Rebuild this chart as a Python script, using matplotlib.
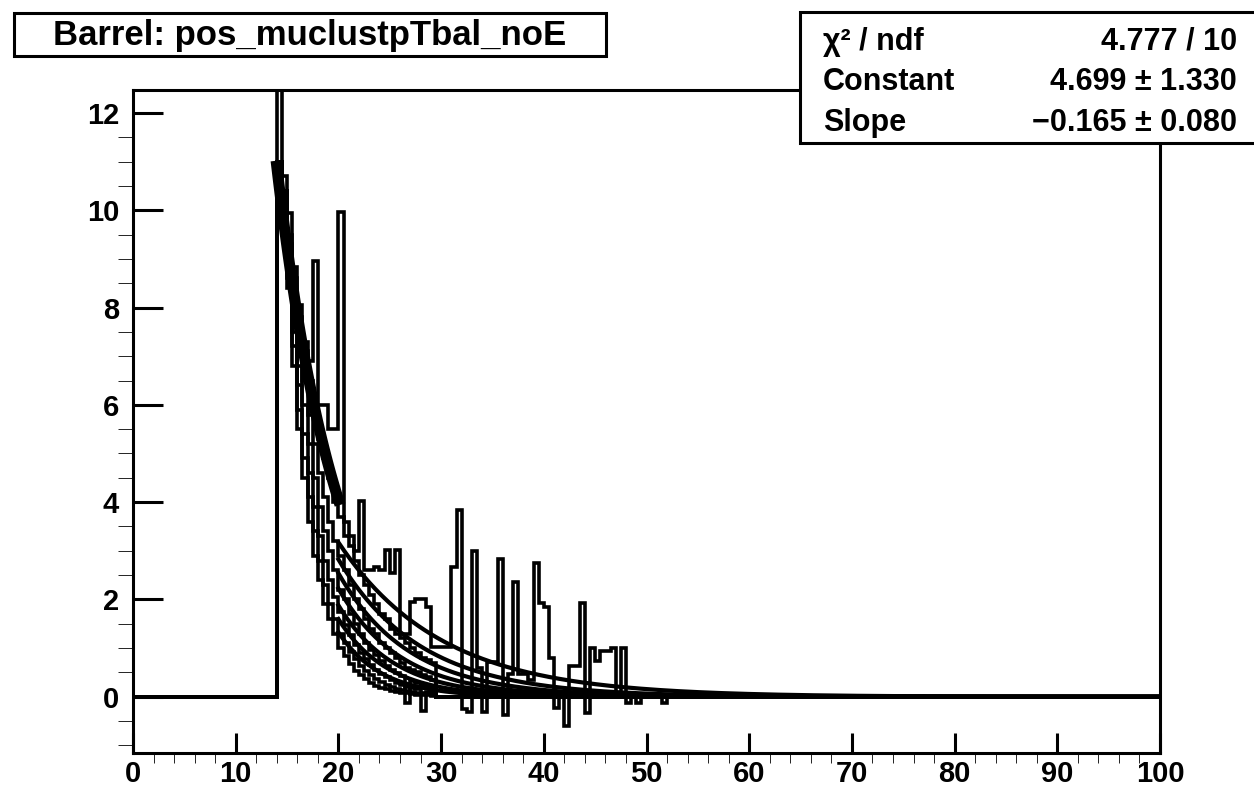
import numpy as np
import matplotlib.pyplot as plt
from matplotlib.patches import Rectangle

plt.rcParams['font.family'] = ['Liberation Sans', 'DejaVu Sans']
plt.rcParams['font.weight'] = 'bold'

# histogram binning: 200 bins of 0.5 from 0 to 100, counts listed from bin [14.0, 14.5)
bin_edges = np.arange(0, 100.5, 0.5)
first_bin = 28

main_counts = [15.0, 10.7, 9.94, 8.83, 8.05, 7.29, 6.9, 8.96, 6.0, 6.0, 5.5, 5.5, 9.97,
               3.6, 3.3, 3.0, 4.02, 2.6, 2.6, 2.67, 2.6, 3.01, 2.54, 3.01, 1.3, 1.3,
               1.95, 2.02, 2.02, 1.85, 1.02, 1.02, 1.02, 1.02, 2.67, 3.83, -0.25, -0.32,
               3.0, 0.6, -0.32, 0.72, 0.72, 2.83, -0.38, 0.47, 2.35, 0.47, 0.47, 0.35,
               2.75, 1.93, 1.84, 0.8, -0.23, 0.0, -0.6, 0.64, 0.64, 1.93, -0.33, 1.0,
               0.74, 0.95, 0.95, 1.0, 0.0, 1.0, -0.13, 0.0, -0.13, 0.0, 0.0, 0.0, 0.0, -0.13]

band_a = [11.0, 10.4, 9.5, 8.6, 7.8, 7.1, 6.5, 5.9, 5.3, 4.9, 4.5, 4.0, 3.7, 3.3, 3.1, 2.8,
          2.5, 2.3, 2.1, 1.9, 1.7, 1.6, 1.4, 1.3, 1.2, 1.1, 1.0, 0.9, 0.8, 0.75, 0.7]
band_b = [11.0, 10.4, 9.3, 8.2, 7.3, 6.5, 5.8, 5.2, 4.6, 4.1, 3.6, 3.2, 2.9, 2.6, 2.3, 2.0,
          1.8, 1.6, 1.4, 1.3, 1.1, 1.0, 0.9, 0.8, 0.7, 0.6, 0.55, 0.5, 0.45, 0.4, 0.35]
band_c = [11.0, 10.4, 9.0, 7.9, 6.8, 6.0, 5.2, 4.5, 3.9, 3.4, 3.0, 2.6, 2.2, 2.0, 1.7, 1.5,
          1.3, 1.1, 0.97, 0.85, 0.74, 0.64, 0.56, 0.49, 0.42, -0.12, 0.32, 0.28, 0.24, 0.21, 0.18]
band_d = [11.0, 10.4, 8.8, 7.5, 6.4, 5.4, 4.6, 3.9, 3.3, 2.8, 2.4, 2.05, 1.74, 1.48, 1.26, 1.07,
          0.91, 0.77, 0.66, 0.56, 0.47, 0.40, 0.34, 0.29, 0.25, 0.21, 0.18, 0.15, -0.3, 0.1, 0.09]
band_e = [11.0, 10.4, 8.6, 7.2, 5.9, 4.9, 4.1, 3.4, 2.8, 2.3, 1.9, 1.6, 1.3, 1.1, 0.92, 0.77,
          0.64, 0.53, 0.44, 0.36, 0.30, 0.25, 0.21, 0.17, 0.14, 0.12, 0.10, 0.08, 0.07, 0.06, 0.05]
band_f = [11.0, 10.4, 8.4, 6.8, 5.5, 4.5, 3.6, 2.9, 2.4, 1.9, 1.6, 1.3, 1.0, 0.83, 0.67, 0.54,
          0.44, 0.36, 0.29, 0.23, 0.19, 0.15, 0.12, 0.10, 0.08, 0.07, 0.05, 0.04, 0.04, 0.03, 0.02]
bands = [band_a, band_b, band_c, band_d, band_e, band_f]

# exponential fits exp(const + slope*x)
tail_const = [3.155, 3.538, 3.832, 4.100, 4.332, 4.669, 5.082]
tail_slope = [-0.10, -0.125, -0.145, -0.165, -0.185, -0.21, -0.24]
tail_range = (20, 100)

fit_const = 4.699
fit_slope = -0.165
fit_range = (14, 20)

stat_names = ["χ² / ndf", "Constant", "Slope"]
stat_values = ["4.777 / 10", "4.699 ± 1.330", "−0.165 ± 0.080"]
title = "Barrel: pos_muclustpTbal_noE"


def full_counts(vals):
    counts = np.zeros(len(bin_edges) - 1)
    counts[first_bin:first_bin + len(vals)] = vals
    return counts


W, H = 1254, 786
fig = plt.figure(figsize=(W / 100, H / 100), dpi=100)
ax = fig.add_axes([133 / W, 1 - 753 / H, (1160 - 133) / W, (753 - 90) / H])

lw = 2.6
for b in bands:
    ax.stairs(full_counts(b), bin_edges, baseline=None, color='black', lw=lw)

xt = np.linspace(tail_range[0], tail_range[1], 400)
for c, s in zip(tail_const, tail_slope):
    ax.plot(xt, np.exp(c + s * xt), color='black', lw=lw + 0.4)

ax.stairs(full_counts(main_counts), bin_edges, baseline=None, color='black', lw=lw)

xf = np.linspace(fit_range[0], fit_range[1], 100)
ax.plot(xf, np.exp(fit_const + fit_slope * xf), color='black', lw=8)

ax.set_xlim(0, 100)
ax.set_ylim(-1.155, 12.47)
ax.set_xticks(np.arange(0, 101, 10))
ax.set_xticks(np.arange(0, 101, 2), minor=True)
ax.set_yticks(np.arange(0, 13, 2))
ax.set_yticks(np.arange(-1, 12.5, 0.5), minor=True)
ax.tick_params(axis='both', direction='in', width=2.2, labelsize=21)
ax.tick_params(axis='x', which='major', length=14.4, pad=5)
ax.tick_params(axis='x', which='minor', length=7.2)
ax.tick_params(axis='y', which='major', length=21.6, pad=10)
ax.tick_params(axis='y', which='minor', length=10.8)
for sp in ax.spines.values():
    sp.set_linewidth(2.2)
for lab in ax.get_xticklabels() + ax.get_yticklabels():
    lab.set_fontweight('bold')

# title box
fig.patches.append(Rectangle((14 / W, 1 - 56 / H), (606 - 14) / W, (56 - 13) / H,
                             transform=fig.transFigure, facecolor='white',
                             edgecolor='black', lw=2.2, zorder=5))
fig.text(310 / W, 1 - 35 / H, title, ha='center', va='center', fontsize=25,
         fontweight='bold', zorder=6)

# stats box
fig.patches.append(Rectangle((800 / W, 1 - 143 / H), 480 / W, (143 - 12) / H,
                             transform=fig.transFigure, facecolor='white',
                             edgecolor='black', lw=2.2, zorder=5))
for i, (n, v) in enumerate(zip(stat_names, stat_values)):
    y = 1 - (42 + 40.5 * i) / H
    fig.text(823 / W, y, n, ha='left', va='center', fontsize=22, fontweight='bold', zorder=6)
    fig.text(1237 / W, y, v, ha='right', va='center', fontsize=22, fontweight='bold', zorder=6)

fig.savefig('out.png', dpi=100)
